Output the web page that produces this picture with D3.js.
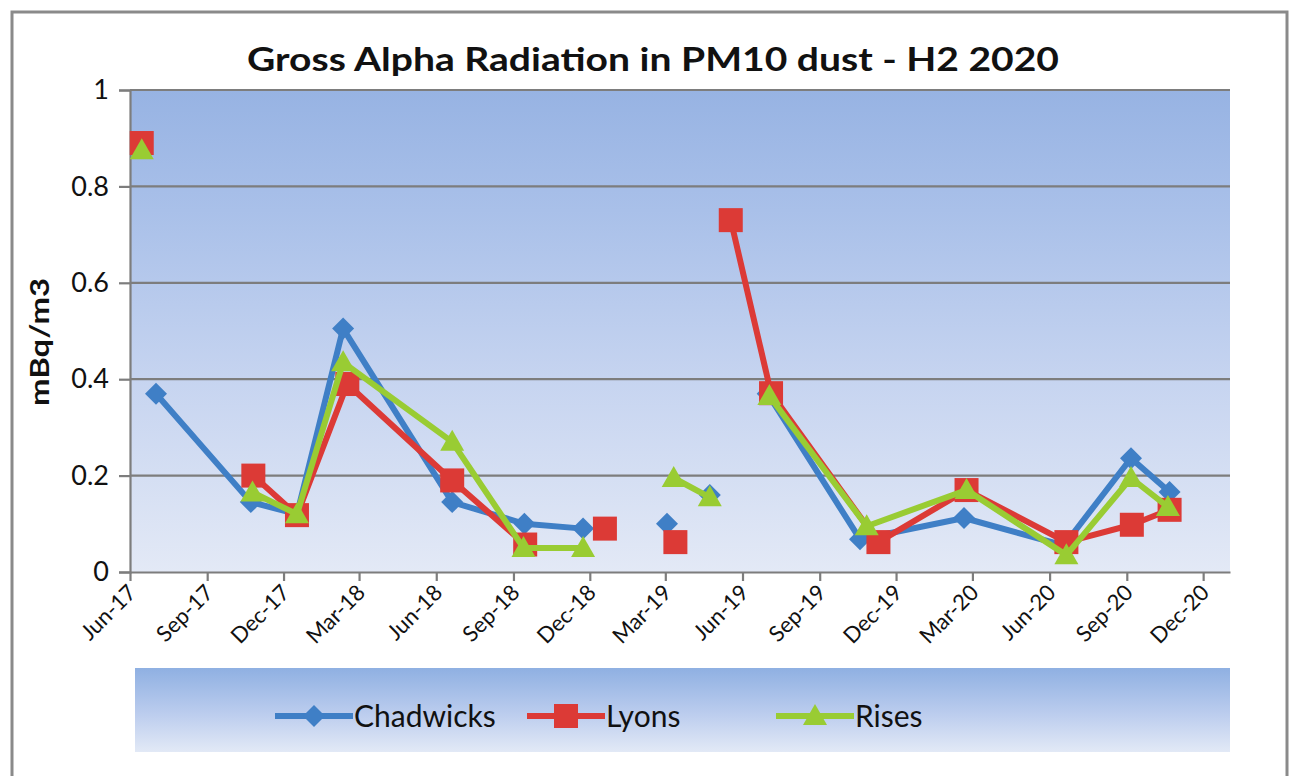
<!DOCTYPE html>
<html>
<head>
<meta charset="utf-8">
<script src="https://cdn.jsdelivr.net/npm/d3@7"></script>
<style>
  html, body { margin: 0; padding: 0; background: #ffffff; }
  svg { display: block; }
  text { font-family: Lato, "Open Sans", "Liberation Sans", sans-serif; fill: #111; }
</style>
</head>
<body>
<svg id="chart" width="1291" height="776"></svg>
<script>
// Gross alpha readings (mBq/m3) per site; null marks a missing sample (line break)
const chadwicksDates  = ["2017-07-02","2017-10-23","2017-12-17","2018-02-10","2018-06-20","2018-09-14","2018-11-23","2018-12-20","2019-03-03","2019-03-13","2019-04-23","2019-05-18","2019-07-01","2019-10-19","2020-02-20","2020-06-18","2020-09-06","2020-10-22"];
const chadwicksValues = [0.37, 0.145, 0.12, 0.505, 0.145, 0.10, 0.09, null, 0.10, null, 0.16, null, 0.37, 0.068, 0.112, 0.055, 0.236, 0.166];

const lyonsDates  = ["2017-06-15","2017-07-02","2017-10-26","2017-12-17","2018-02-15","2018-06-20","2018-09-15","2018-11-23","2018-12-19","2019-03-03","2019-03-13","2019-04-23","2019-05-18","2019-07-05","2019-11-10","2020-02-23","2020-06-21","2020-09-07","2020-10-22"];
const lyonsValues = [0.89, null, 0.20, 0.118, 0.39, 0.19, 0.057, null, 0.09, null, 0.062, null, 0.73, 0.371, 0.062, 0.17, 0.062, 0.098, 0.129];

const risesDates  = ["2017-06-15","2017-07-02","2017-10-25","2017-12-17","2018-02-10","2018-06-20","2018-09-13","2018-11-23","2018-12-19","2019-03-11","2019-04-23","2019-05-18","2019-07-03","2019-10-27","2020-02-23","2020-06-21","2020-09-06","2020-10-20"];
const risesValues = [0.875, null, 0.165, 0.12, 0.435, 0.27, 0.05, 0.05, null, 0.195, 0.155, null, 0.365, 0.095, 0.17, 0.035, 0.195, 0.135];

const seriesNames  = ["Chadwicks", "Lyons", "Rises"];
const xTickLabels  = ["Jun-17","Sep-17","Dec-17","Mar-18","Jun-18","Sep-18","Dec-18","Mar-19","Jun-19","Sep-19","Dec-19","Mar-20","Jun-20","Sep-20","Dec-20"];
const yTickValues  = [0, 0.2, 0.4, 0.6, 0.8, 1];
const xDomainDates = ["2017-06-01", "2021-01-02"];

const titleText = "Gross Alpha Radiation in PM10 dust - H2 2020";
const yTitle = "mBq/m3";

const parseDay = d3.utcParse("%Y-%m-%d");
const parseTick = d3.utcParse("%b-%y");

const series = [
  { name: seriesNames[0], dates: chadwicksDates, values: chadwicksValues, color: "#3f7fc6", shape: "diamond" },
  { name: seriesNames[1], dates: lyonsDates,     values: lyonsValues,     color: "#dc3a36", shape: "square" },
  { name: seriesNames[2], dates: risesDates,     values: risesValues,     color: "#99cc33", shape: "triangle" }
].map(s => ({ ...s, points: s.dates.map((d, i) => ({ date: parseDay(d), value: s.values[i] })) }));

const svg = d3.select("#chart");
const plot = { left: 130, right: 1230, top: 90, bottom: 572 };

const x = d3.scaleUtc().domain(xDomainDates.map(parseDay)).range([plot.left, plot.right]);
const y = d3.scaleLinear().domain([0, 1]).range([plot.bottom, plot.top]);

const defs = svg.append("defs");
const plotGrad = defs.append("linearGradient").attr("id", "plotBg").attr("x1", 0).attr("y1", 0).attr("x2", 0).attr("y2", 1);
plotGrad.append("stop").attr("offset", "0%").attr("stop-color", "#97b3e3");
plotGrad.append("stop").attr("offset", "25%").attr("stop-color", "#a9c0e9");
plotGrad.append("stop").attr("offset", "60%").attr("stop-color", "#c6d4f0");
plotGrad.append("stop").attr("offset", "100%").attr("stop-color", "#e3e9f6");

const legGrad = defs.append("linearGradient").attr("id", "legBg").attr("x1", 0).attr("y1", 0).attr("x2", 0).attr("y2", 1);
legGrad.append("stop").attr("offset", "0%").attr("stop-color", "#8fb0e2");
legGrad.append("stop").attr("offset", "55%").attr("stop-color", "#bccdee");
legGrad.append("stop").attr("offset", "100%").attr("stop-color", "#e2e9f6");

// outer frame
svg.append("rect").attr("x", 12).attr("y", 12).attr("width", 1275).attr("height", 780)
  .attr("fill", "#ffffff").attr("stroke", "#8a8a8a").attr("stroke-width", 3);

// title
svg.append("text").attr("x", 653).attr("y", 71).attr("text-anchor", "middle")
  .attr("font-size", 32).attr("font-weight", "bold")
  .attr("textLength", 812).attr("lengthAdjust", "spacingAndGlyphs")
  .text(titleText);

// plot background
svg.append("rect").attr("x", plot.left).attr("y", plot.top)
  .attr("width", plot.right - plot.left).attr("height", plot.bottom - plot.top)
  .attr("fill", "url(#plotBg)");

// horizontal gridlines
svg.append("g").selectAll("line").data(yTickValues.filter(v => v > 0)).join("line")
  .attr("x1", plot.left).attr("x2", plot.right)
  .attr("y1", d => y(d)).attr("y2", d => y(d))
  .attr("stroke", "#7d7d7d").attr("stroke-width", 2.2);

// y axis
const yAxis = svg.append("g").attr("transform", `translate(${plot.left},0)`)
  .call(d3.axisLeft(y).tickValues(yTickValues).tickFormat(d3.format("~g")).tickSize(11).tickPadding(10));
yAxis.select(".domain").attr("stroke", "#7d7d7d").attr("stroke-width", 2.2);
yAxis.selectAll(".tick line").attr("stroke", "#7d7d7d").attr("stroke-width", 2.2);
yAxis.selectAll(".tick text").attr("font-size", 27).attr("fill", "#111")
  .attr("font-family", "Lato, 'Open Sans', sans-serif");

// x axis
const xTicks = xTickLabels.map(parseTick);
const xAxis = svg.append("g").attr("transform", `translate(0,${plot.bottom})`)
  .call(d3.axisBottom(x).tickValues(xTicks).tickFormat(d3.utcFormat("%b-%y")).tickSize(9).tickSizeOuter(0));
xAxis.select(".domain").attr("stroke", "#7d7d7d").attr("stroke-width", 2.2);
xAxis.selectAll(".tick line").attr("stroke", "#7d7d7d").attr("stroke-width", 2.2);
xAxis.selectAll(".tick text")
  .attr("font-size", 22).attr("fill", "#111")
  .attr("font-family", "Lato, 'Open Sans', sans-serif")
  .attr("text-anchor", "end")
  .attr("dy", null).attr("y", 0)
  .attr("transform", "translate(7,22) rotate(-45)");

// y title
svg.append("text").attr("transform", "translate(49,342) rotate(-90)")
  .attr("text-anchor", "middle").attr("font-size", 27).attr("font-weight", "bold")
  .attr("textLength", 128).attr("lengthAdjust", "spacingAndGlyphs")
  .text(yTitle);

// marker generator
function marker(sel, shape, color) {
  if (shape === "square") {
    sel.append("rect").attr("x", -12).attr("y", -12).attr("width", 24).attr("height", 24).attr("fill", color);
  } else if (shape === "diamond") {
    sel.append("path").attr("d", "M0,-11L11,0L0,11L-11,0Z").attr("fill", color);
  } else {
    sel.append("path").attr("d", "M0,-12L12,9L-12,9Z").attr("fill", color);
  }
}

const line = d3.line().defined(d => d.value != null).x(d => x(d.date)).y(d => y(d.value));

series.forEach(s => {
  const g = svg.append("g");
  g.append("path").datum(s.points).attr("d", line)
    .attr("fill", "none").attr("stroke", s.color).attr("stroke-width", 6)
    .attr("stroke-linejoin", "round");
  g.selectAll("g.m").data(s.points.filter(p => p.value != null)).join("g").attr("class", "m")
    .attr("transform", d => `translate(${x(d.date)},${y(d.value)})`)
    .each(function () { marker(d3.select(this), s.shape, s.color); });
});

// legend
svg.append("rect").attr("x", 135).attr("y", 668).attr("width", 1095).attr("height", 84).attr("fill", "url(#legBg)");
const legendX = [275, 527, 776];
series.forEach((s, i) => {
  const g = svg.append("g").attr("transform", `translate(${legendX[i]},716)`);
  g.append("line").attr("x1", 0).attr("x2", 78).attr("stroke", s.color).attr("stroke-width", 6);
  const m = g.append("g").attr("transform", "translate(39,0)");
  marker(m, s.shape, s.color);
  g.append("text").attr("x", 79).attr("y", 11).attr("font-size", 30).text(s.name);
});
</script>
</body>
</html>
